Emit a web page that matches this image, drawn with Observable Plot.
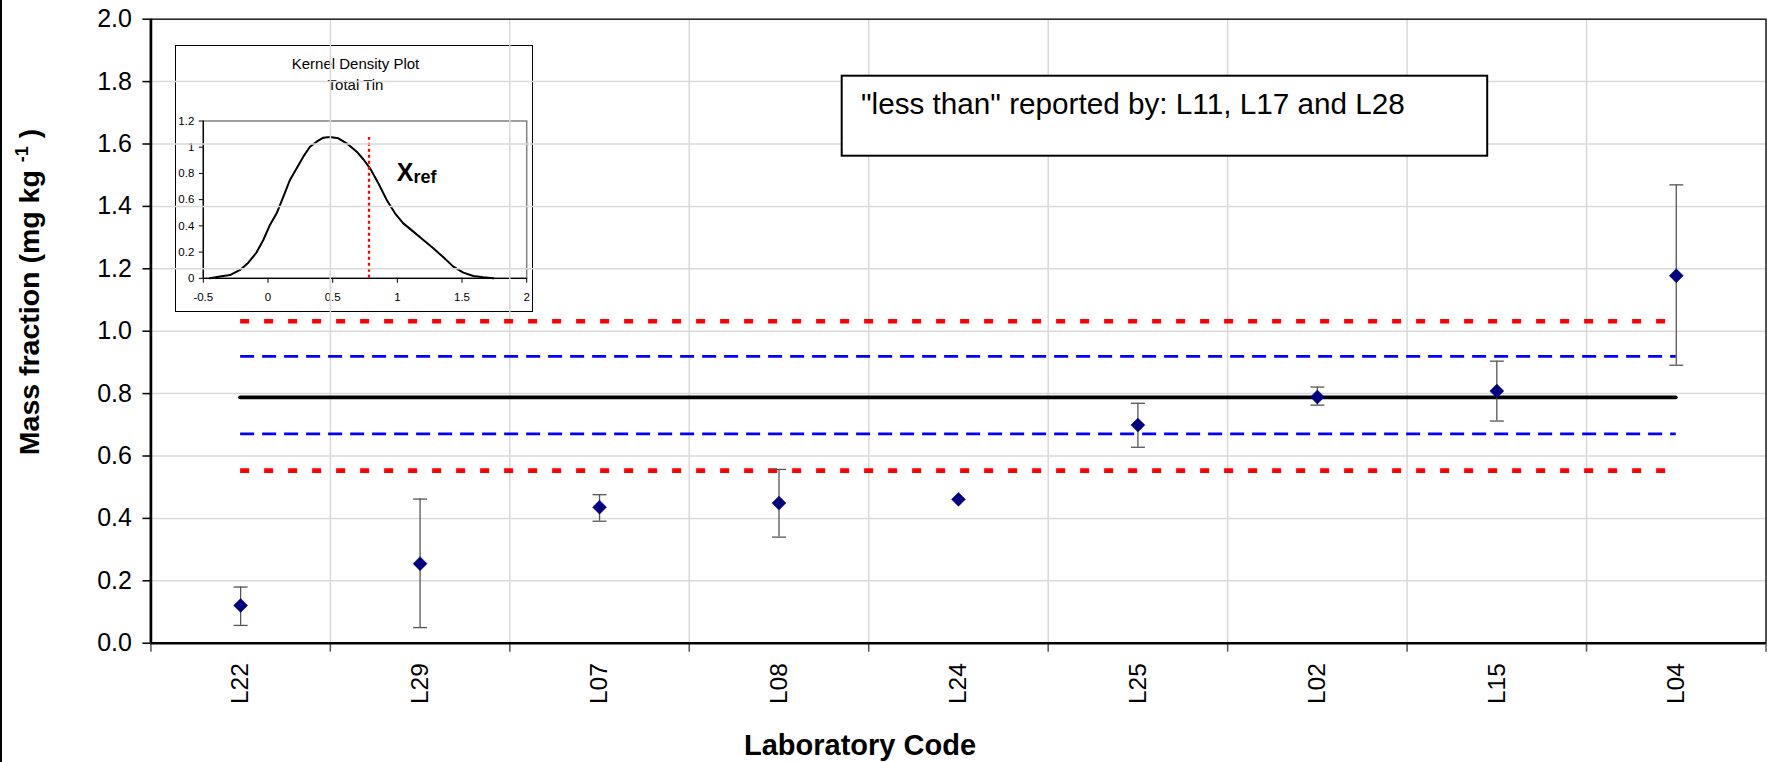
<!DOCTYPE html>
<html>
<head>
<meta charset="utf-8">
<script src="https://cdn.jsdelivr.net/npm/d3@7"></script>
<script src="https://cdn.jsdelivr.net/npm/@observablehq/plot@0.6"></script>
<style>
  html, body { margin: 0; padding: 0; background: #fff; }
  #wrap { position: relative; width: 1767px; height: 762px; overflow: hidden; background: #fff; }
  #leftline { position: absolute; left: 0; top: 0; width: 2px; height: 762px; background: #000; }
  #inset { position: absolute; left: 175px; top: 45px; width: 358px; height: 267px; box-sizing: border-box;
           border: 1.5px solid #000; background: #fff; }
  svg { display: block; }
</style>
</head>
<body>
<div id="wrap"><div id="leftline"></div><div id="inset"></div></div>
<script>
const FONT = "'Liberation Sans', Arial, Helvetica, sans-serif";

// ---------- data ----------
const labs  = ["L22","L29","L07","L08","L24","L25","L02","L15","L04"];
const vals  = [0.121, 0.255, 0.436, 0.449, 0.461, 0.699, 0.789, 0.808, 1.178];
const lows  = [0.057, 0.050, 0.391, 0.340, null, 0.628, 0.763, 0.712, 0.891];
const highs = [0.180, 0.462, 0.476, 0.557, null, 0.769, 0.821, 0.904, 1.469];
const yTicks = [0, 0.2, 0.4, 0.6, 0.8, 1.0, 1.2, 1.4, 1.6, 1.8, 2.0];
const xRef = 0.788;
const uncLow = 0.671, uncHigh = 0.919;
const zLow = 0.553, zHigh = 1.032;
const noteText = "\"less than\" reported by: L11, L17 and L28";

// kernel density (inset)
const kdX = [-0.448,-0.371,-0.294,-0.216,-0.152,-0.088,-0.036,0.015,0.067,0.119,0.170,0.222,0.273,0.325,0.376,0.428,0.479,0.544,0.608,0.686,0.737,0.789,0.853,0.918,0.982,1.046,1.124,1.201,1.278,1.356,1.433,1.510,1.588,1.665,1.742];
const kdY = [0,0.013,0.025,0.064,0.119,0.198,0.292,0.407,0.496,0.623,0.750,0.839,0.928,1.004,1.042,1.073,1.078,1.068,1.030,0.966,0.908,0.839,0.725,0.597,0.496,0.419,0.356,0.292,0.229,0.160,0.089,0.043,0.018,0.008,0];
const kdXTicks = [-0.5, 0, 0.5, 1, 1.5, 2];
const kdYTicks = [0, 0.2, 0.4, 0.6, 0.8, 1, 1.2];
const kdXref = 0.781, kdXrefTop = 1.075;

// ---------- derived tables ----------
const pts = labs.map((lab, i) => ({lab, xi: i + 0.5, v: vals[i], lo: lows[i], hi: highs[i]}));
const errs = pts.filter(d => d.lo != null);
const caps = errs.flatMap(d => [{xi: d.xi, y: d.lo}, {xi: d.xi, y: d.hi}]);
const bounds = d3.range(labs.length + 1);
const centers = labs.map((_, i) => i + 0.5);
const xStart = labs.indexOf("L22") + 0.5, xEnd = labs.indexOf("L04") + 0.5;
const kd = kdX.map((x, i) => ({x, y: kdY[i]}));

const capSymbol = { draw(ctx, size) { const w = Math.sqrt(size / Math.PI); ctx.moveTo(-w, 0); ctx.lineTo(w, 0); } };

// ---------- main chart ----------
const main = Plot.plot({
  width: 1767, height: 762,
  marginLeft: 150.4, marginRight: 1.5, marginTop: 18.7, marginBottom: 119.3,
  x: {domain: [0, labs.length], axis: null},
  y: {domain: [0, 2], axis: null},
  style: {fontFamily: FONT, fontSize: "25px", color: "#000", background: "transparent", overflow: "visible"},
  marks: [
    Plot.gridY(yTicks, {stroke: "#d9d9d9", strokeOpacity: 1, strokeWidth: 1.5}),
    Plot.gridX(bounds, {stroke: "#d9d9d9", strokeOpacity: 1, strokeWidth: 1.5}),
    Plot.frame({stroke: "#222", strokeWidth: 1.5}),
    Plot.axisY(yTicks, {tickSize: 8, tickPadding: 11, tickFormat: d3.format(".1f"), fontSize: 25, label: null, stroke: "#000", strokeWidth: 1.5}),
    Plot.axisX(bounds, {tickSize: 9, tickFormat: () => "", label: null, stroke: "#555", strokeWidth: 1.5}),
    Plot.axisX(centers, {tickSize: 0, tickPadding: 20, tickRotate: -90, fontSize: 24.5, label: null,
                         tickFormat: d => labs[Math.floor(d)]}),
    Plot.ruleX([0], {stroke: "#000", strokeWidth: 2.7}),
    Plot.ruleY([0], {stroke: "#000", strokeWidth: 2.5}),
    // reference levels
    Plot.ruleY([zHigh, zLow], {x1: xStart, x2: xEnd, stroke: "#ff0000", strokeWidth: 4.6, strokeDasharray: "9 15"}),
    Plot.ruleY([uncHigh, uncLow], {x1: xStart, x2: xEnd, stroke: "#0000ff", strokeWidth: 2.8, strokeDasharray: "14 8"}),
    Plot.ruleY([xRef], {x1: xStart, x2: xEnd, stroke: "#000", strokeWidth: 3.8, strokeLinecap: "round"}),
    // error bars
    Plot.ruleX(errs, {x: "xi", y1: "lo", y2: "hi", stroke: "#555", strokeWidth: 1.3}),
    Plot.dot(caps, {x: "xi", y: "y", symbol: capSymbol, r: 7, stroke: "#555", strokeWidth: 1.3, fill: "none"}),
    // results
    Plot.dot(pts, {x: "xi", y: "v", symbol: "diamond2", r: 6.3, fill: "#000080", stroke: "#000080", strokeWidth: 0.5})
  ]
});
document.getElementById("wrap").appendChild(main);
main.style.position = "absolute"; main.style.left = "0px"; main.style.top = "0px";

const ms = d3.select(main);
// note box
ms.append("rect").attr("x", 841.7).attr("y", 75.7).attr("width", 645.5).attr("height", 80)
  .attr("fill", "#fff").attr("stroke", "#000").attr("stroke-width", 2);
ms.append("text").attr("x", 861).attr("y", 114.3).attr("text-anchor", "start").attr("font-family", FONT).attr("font-size", 29.7)
  .attr("fill", "#000").text(noteText);
// axis titles
const yt = ms.append("text").attr("transform", "translate(39,292) rotate(-90)")
  .attr("text-anchor", "middle").attr("font-family", FONT).attr("font-size", 28.5).attr("font-weight", "bold").attr("fill", "#000");
yt.append("tspan").text("Mass fraction (mg kg ");
yt.append("tspan").attr("font-size", 18).attr("dy", -11).text("-1");
yt.append("tspan").attr("dy", 11).text(" )");
ms.append("text").attr("x", 860).attr("y", 755).attr("text-anchor", "middle").attr("font-family", FONT)
  .attr("font-size", 29).attr("font-weight", "bold").attr("fill", "#000").text("Laboratory Code");

// ---------- inset: kernel density ----------
const inset = Plot.plot({
  width: 355, height: 264,
  marginLeft: 26.8, marginRight: 4.8, marginTop: 74.5, marginBottom: 32.2,
  x: {domain: [-0.5, 2], axis: null},
  y: {domain: [0, 1.2], axis: null},
  style: {fontFamily: FONT, fontSize: "11px", color: "#000", background: "transparent", overflow: "visible"},
  marks: [
    Plot.frame({stroke: "#808080", strokeWidth: 1.5}),
    Plot.axisY(kdYTicks, {tickSize: 4, tickPadding: 5, fontSize: 11.5, label: null, stroke: "#000", tickFormat: d => String(d)}),
    Plot.axisX(kdXTicks, {tickSize: 5, tickPadding: 10, fontSize: 11.5, label: null, stroke: "#000", tickFormat: d => String(d)}),
    Plot.ruleX([-0.5], {stroke: "#000", strokeWidth: 1.3}),
    Plot.ruleY([0], {stroke: "#000", strokeWidth: 1.3}),
    Plot.line(kd, {x: "x", y: "y", stroke: "#000", strokeWidth: 2}),
    Plot.ruleX([kdXref], {y1: 0, y2: kdXrefTop, stroke: "#ff0000", strokeWidth: 2.3, strokeDasharray: "3 3"})
  ]
});
document.getElementById("inset").appendChild(inset);
const is = d3.select(inset);
const sx = inset.scale("x"), sy = inset.scale("y");
is.append("text").attr("x", 179.5).attr("y", 22.8).attr("text-anchor", "middle").attr("font-family", FONT)
  .attr("font-size", 15).attr("fill", "#000").text("Kernel Density Plot");
is.append("text").attr("x", 179.5).attr("y", 44.2).attr("text-anchor", "middle").attr("font-family", FONT)
  .attr("font-size", 15).attr("fill", "#000").text("Total Tin");
const xr = is.append("text").attr("x", sx.apply(1.0)).attr("y", sy.apply(0.737)).attr("text-anchor", "start")
  .attr("font-family", FONT).attr("font-weight", "bold").attr("fill", "#000");
xr.append("tspan").attr("font-size", 25).text("X");
xr.append("tspan").attr("font-size", 18).attr("dy", 1.5).text("ref");
</script>
</body>
</html>
